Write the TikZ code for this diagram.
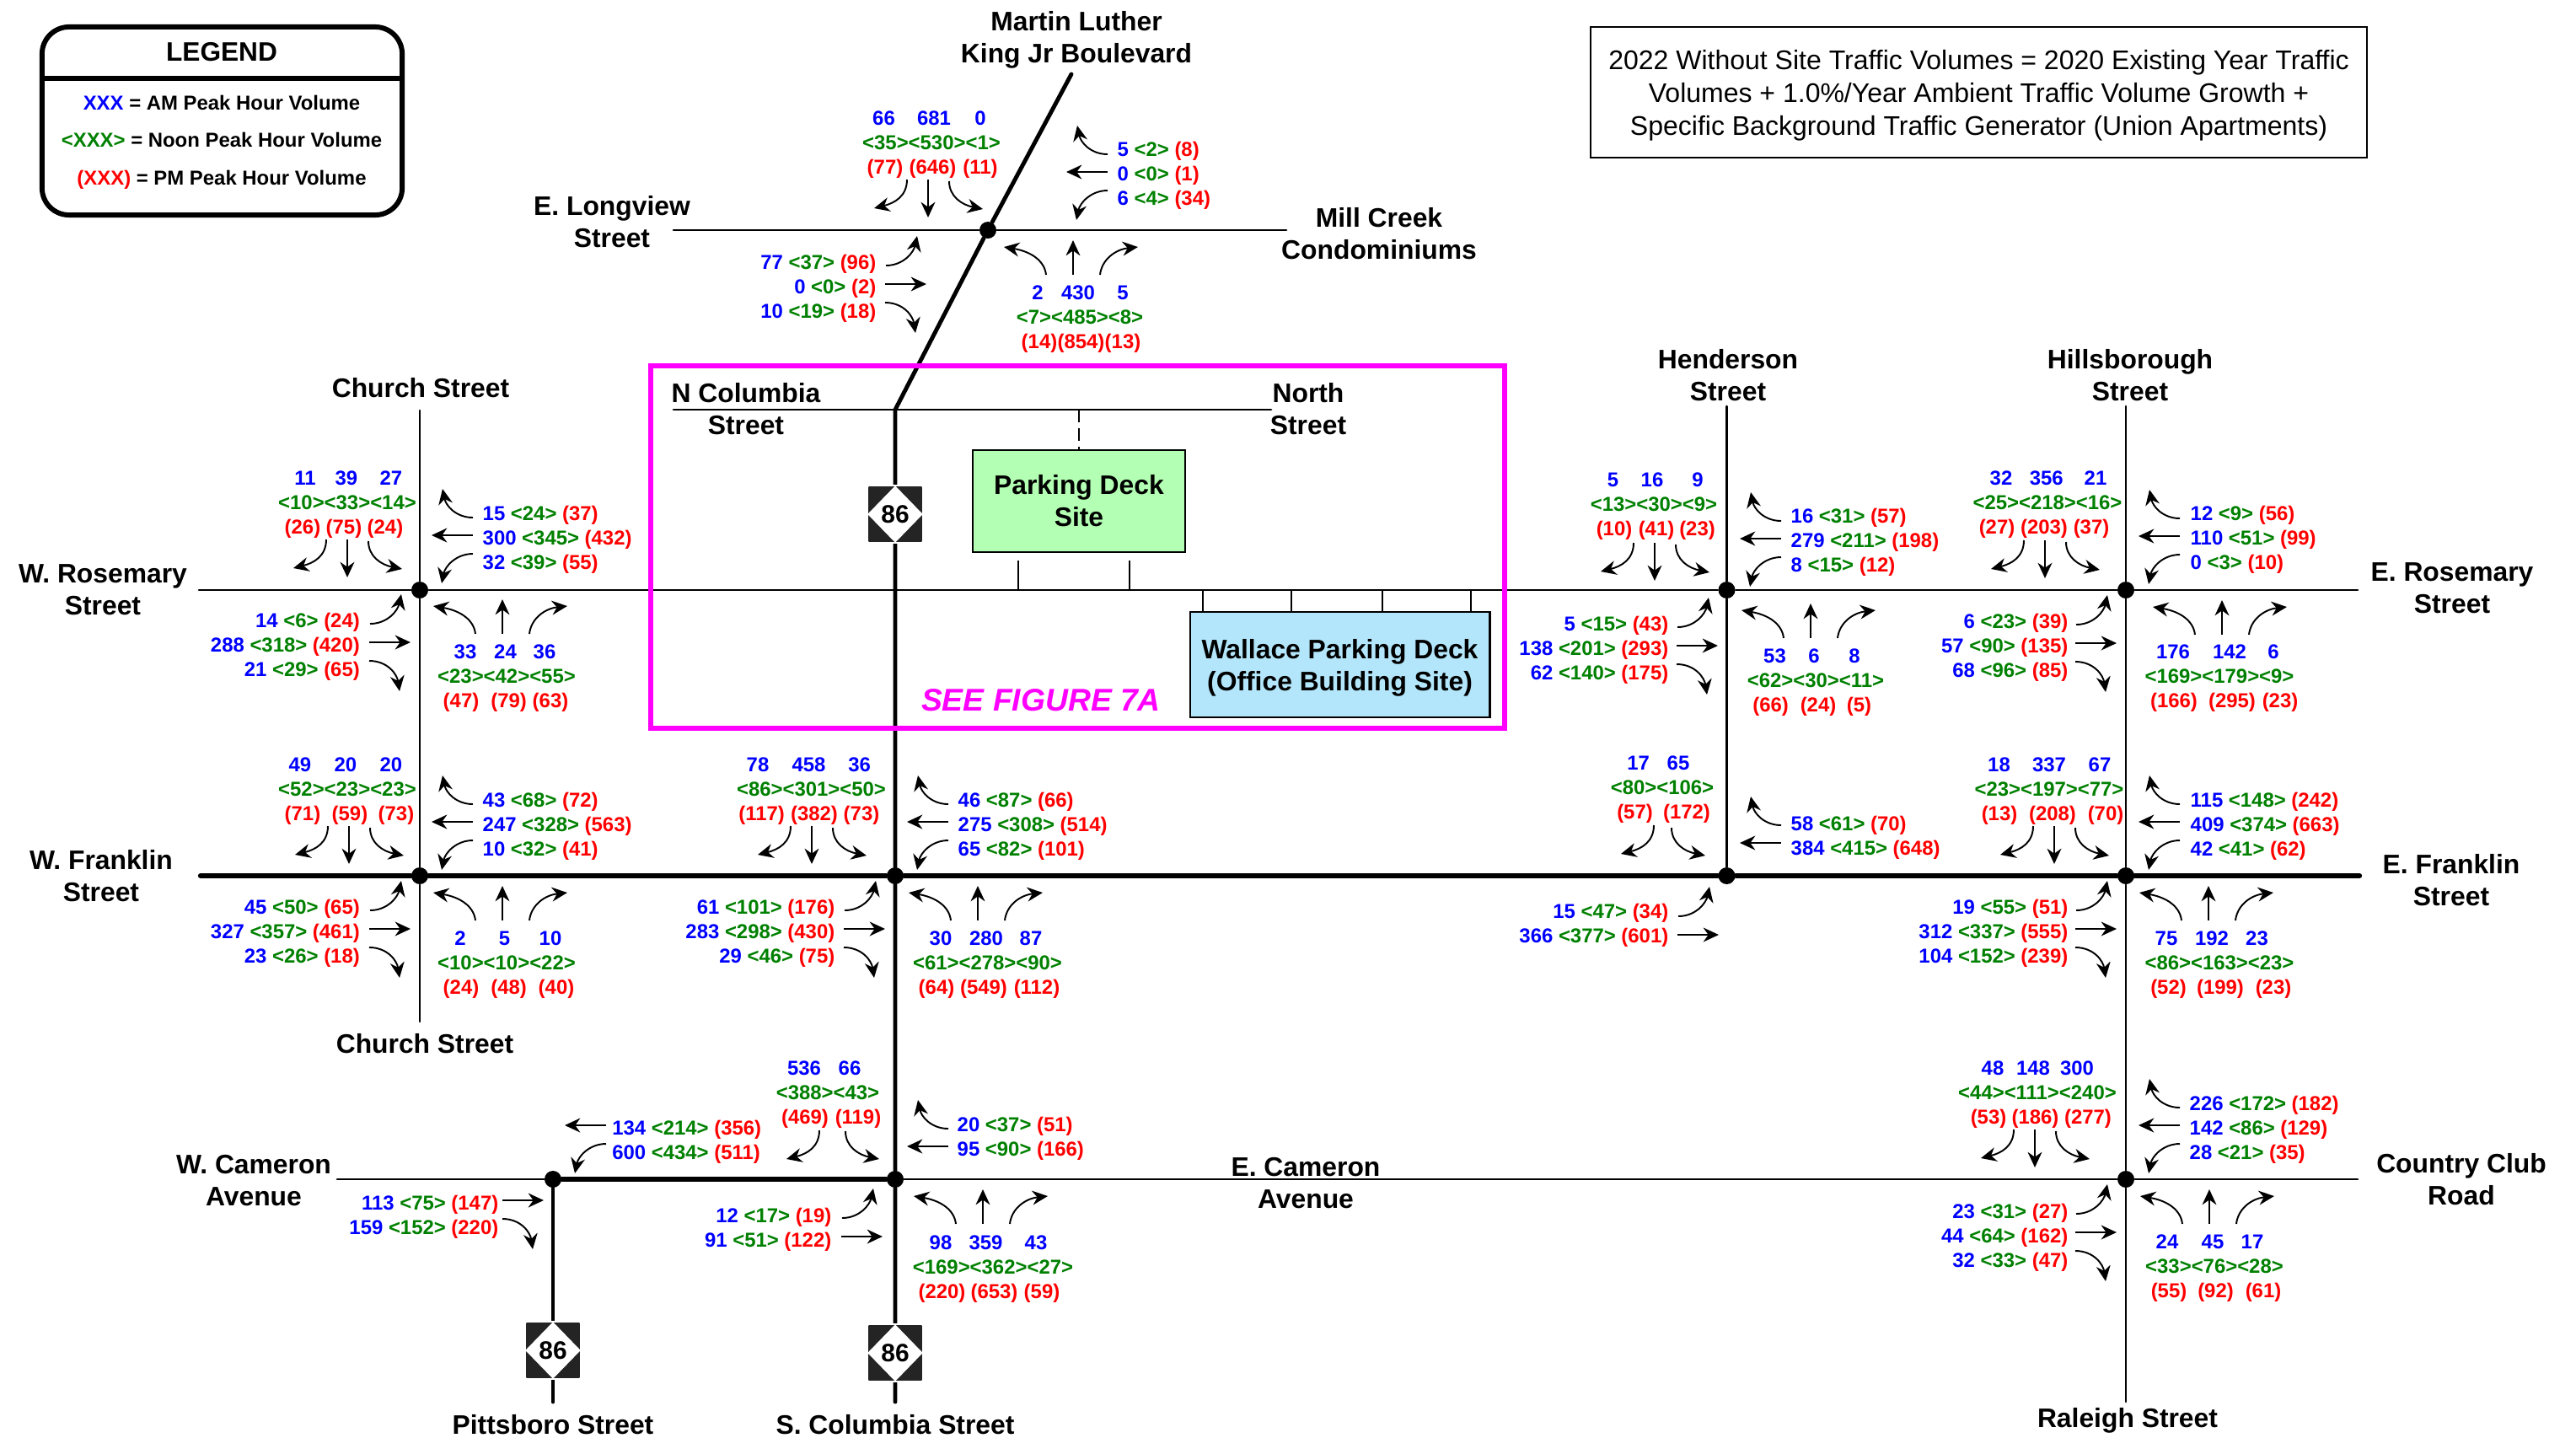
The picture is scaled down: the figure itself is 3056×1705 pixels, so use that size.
\documentclass[tikz,border=0pt]{standalone}
\usepackage{fontspec}
\setmainfont{Liberation Sans}
\usetikzlibrary{arrows.meta, shapes.geometric}

\definecolor{amblue}{RGB}{0,0,255}
\definecolor{noongreen}{RGB}{0,128,0}
\definecolor{pmred}{RGB}{255,0,0}
\definecolor{seemagenta}{RGB}{255,0,255}
\definecolor{deckgreen}{RGB}{179,255,179}
\definecolor{wallaceblue}{RGB}{179,230,250}
\definecolor{shielddark}{RGB}{36,36,36}

\newcommand{\amv}[1]{\textcolor{amblue}{#1}}
\newcommand{\noonv}[1]{\textcolor{noongreen}{<#1>}}
\newcommand{\pmv}[1]{\textcolor{pmred}{(#1)}}

% rows beside a crossing: name, anchor, x, first y, am/noon/pm
\newcommand{\siderows}[5]{%
  \foreach \a/\b/\c [count=\i] in {#5}
    \node[vol,anchor=#2] (#1\i) at (#3,{#4+(\i-1)*29}) {\amv{\a} \noonv{\b} \pmv{\c}};%
}
% rows above or below a crossing: name, y, am list, noon x, noon text, pm list
\newcommand{\stackrows}[6]{%
  \foreach \x/\t [count=\i] in {#3}
    \node[vol] (#1a\i) at (\x,#2) {\amv{\t}};
  \node[vol] (#1n) at (#4,{#2+29}) {\textcolor{noongreen}{#5}};
  \foreach \x/\t [count=\i] in {#6}
    \node[vol] (#1p\i) at (\x,{#2+58}) {\pmv{\t}};%
}

\tikzset{
  vol/.style={font=\bfseries\fontsize{6.8}{8}\selectfont,inner sep=0pt,text height=4.9pt,text depth=0pt},
  roadname/.style={font=\bfseries\fontsize{9.05}{10.8}\selectfont,align=center,inner sep=0pt},
  dot/.style={circle,fill=black,inner sep=0pt,minimum size=0.2cm},
  roadthin/.style={line width=.8pt,line cap=round},
  roadmid/.style={line width=1.4pt,line cap=round},
  roadwide/.style={line width=1.8pt,line cap=round},
  stub/.style={line width=.55pt},
  movearrow/.style={line width=.55pt,-{Stealth[length=5.2pt,width=4.8pt]}},
  thruarrow/.style={line width=.7pt,-{Stealth[length=5.2pt,width=4.8pt]}},
  shieldbox/.style={rectangle,rounded corners=.5pt,fill=shielddark,draw=white,line width=.5pt,minimum width=.66cm,minimum height=.68cm},
  shielddiamond/.style={diamond,fill=white,inner sep=0pt,minimum width=.66cm,minimum height=.68cm,font=\bfseries\fontsize{8.5}{10}\selectfont},
  site/.style={rectangle,draw=black,line width=.8pt,font=\bfseries\fontsize{9.05}{10.8}\selectfont,align=center,inner sep=0pt},
  % north leg
  nleft/.pic={\draw[movearrow] (-25,0) .. controls (-25,20) and (-40,28) .. (-64,34);},
  nthru/.pic={\draw[movearrow] (0,0) -- (0,45);},
  nright/.pic={\draw[movearrow] (25,2) .. controls (25,20) and (40,30) .. (65,35);},
  nleg/.pic={\pic{nleft};\pic{nthru};\pic{nright};},
  % east leg
  eup/.pic={\draw[movearrow] (0,-21) .. controls (-20,-21) and (-32,-35) .. (-36,-55);},
  emid/.pic={\draw[thruarrow] (0,0) -- (-49,0);},
  elow/.pic={\draw[movearrow] (0,22) .. controls (-20,22) and (-33,37) .. (-37,57);},
  eleg/.pic={\pic{eup};\pic{emid};\pic{elow};},
  % west leg
  wup/.pic={\draw[movearrow] (1,-22) .. controls (22,-22) and (34,-38) .. (38,-57);},
  wmid/.pic={\draw[thruarrow] (0,0) -- (49,0);},
  wlow/.pic={\draw[movearrow] (0,22) .. controls (22,22) and (33,38) .. (36,58);},
  wleg/.pic={\pic{wup};\pic{wmid};\pic{wlow};},
  % south leg
  sleft/.pic={\draw[movearrow] (-32,0) .. controls (-34,-18) and (-52,-28) .. (-82,-33);},
  sthru/.pic={\draw[movearrow] (0,0) -- (0,-41);},
  sright/.pic={\draw[movearrow] (32,0) .. controls (34,-18) and (50,-30) .. (77,-33);},
  sleg/.pic={\pic{sleft};\pic{sthru};\pic{sright};},
}

\begin{document}
\begin{tikzpicture}[x=0.01cm,y=-0.01cm]
    \useasboundingbox (0,0) rectangle (3056,1705);

    % crossings
    \node[dot] (longview) at (1172,273) {};
    \node[dot] (churchrose) at (498,700) {};
    \node[dot] (churchfrank) at (498,1039) {};
    \node[dot] (colfrank) at (1062,1039) {};
    \node[dot] (hendrose) at (2048.5,700) {};
    \node[dot] (hillrose) at (2522,700) {};
    \node[dot] (hendfrank) at (2048.5,1039) {};
    \node[dot] (hillfrank) at (2522,1039) {};
    \node[dot] (pittscam) at (656,1399) {};
    \node[dot] (colcam) at (1062,1399) {};
    \node[dot] (raleighcam) at (2522,1399) {};

    % free road ends
    \coordinate (rosewest) at (236,700);
    \coordinate (roseeast) at (2797,700);
    \coordinate (frankwest) at (238,1039);
    \coordinate (frankeast) at (2799,1039);
    \coordinate (camwest) at (400,1399);
    \coordinate (cameast) at (2797,1399);
    \coordinate (churchtop) at (498,487);
    \coordinate (churchend) at (498,1212);
    \coordinate (hendtop) at (2048.5,482);
    \coordinate (hilltop) at (2522,482);
    \coordinate (raleighend) at (2522,1663);
    \coordinate (pittsend) at (656,1663);
    \coordinate (colend) at (1062,1663);
    \coordinate (coltop) at (1062,486);
    \coordinate (kingtop) at (1271,88);
    \coordinate (northwest) at (799,486);
    \coordinate (northeast) at (1508,486);
    \coordinate (longwest) at (799,273);
    \coordinate (longeast) at (1526,273);

    % roads
    \draw[roadthin] (rosewest) -- (churchrose) -- (hendrose) -- (hillrose) -- (roseeast);
    \draw[roadwide] (frankwest) -- (churchfrank) -- (colfrank) -- (hendfrank) -- (hillfrank) -- (frankeast);
    \draw[roadthin] (camwest) -- (pittscam);
    \draw[roadwide] (pittscam) -- (colcam);
    \draw[roadthin] (colcam) -- (raleighcam) -- (cameast);
    \draw[roadthin] (churchtop) -- (churchrose) -- (churchfrank) -- (churchend);
    \draw[roadthin] (hendtop) -- (hendrose) -- (hendfrank);
    \draw[roadthin] (hilltop) -- (hillrose) -- (hillfrank) -- (raleighcam) -- (raleighend);
    \draw[roadmid] (pittscam) -- (pittsend);
    \draw[roadmid] (kingtop) -- (longview) -- (coltop) -- (colfrank) -- (colcam) -- (colend);
    \draw[roadthin] (longwest) -- (longview) -- (longeast);
    \draw[roadthin] (northwest) -- (northeast);

    % route shields
    \node[shieldbox] (shieldnorth) at (1062,610) {};
    \node[shielddiamond] (routenorth) at (shieldnorth) {86};
    \node[shieldbox] (shieldpitts) at (656,1602) {};
    \node[shielddiamond] (routepitts) at (shieldpitts) {86};
    \node[shieldbox] (shieldsouth) at (1062,1605) {};
    \node[shielddiamond] (routesouth) at (shieldsouth) {86};

    % sites
    \node[site,fill=deckgreen,minimum width=2.52cm,minimum height=1.21cm] (deck) at (1280,594.5) {Parking Deck\\Site};
    \node[site,fill=wallaceblue,minimum width=3.55cm,minimum height=1.25cm,text depth=0pt] (wallace) at (1589.5,788.5) {Wallace Parking Deck\\(Office Building Site)};
    \coordinate (deckdrive) at (1280,486);
    \draw[stub,dash pattern=on 4.3pt off 2pt] (deckdrive) -- (deck.north);
    \foreach \x in {1208,1340}
        \draw[stub] (\x,665) -- (\x,700);
    \foreach \x in {1427,1532,1640,1745}
        \draw[stub] (\x,700) -- (\x,726);

    % figure 7A window
    \node[draw=seemagenta,line width=1.6pt,minimum width=10.13cm,minimum height=4.3cm,inner sep=0pt] (window) at (1278.5,649) {};
    \node[text=seemagenta,inner sep=0pt,font=\bfseries\itshape\fontsize{10.6}{12}\selectfont] (windowname) at (1235,831) {SEE FIGURE 7A};

    % legend
    \node[draw=black,line width=1.7pt,rounded corners=.32cm,minimum width=4.27cm,minimum height=2.23cm,inner sep=0pt] (legend) at (263.5,143.5) {};
    \coordinate (legendrule) at (263,93);
    \draw[line width=1.7pt] (legend.west |- legendrule) -- (legend.east |- legendrule);
    \node[inner sep=0pt,font=\bfseries\fontsize{9}{11}\selectfont] (legendname) at (263,62) {LEGEND};
    \node[vol] (legendam) at (263,122) {\amv{XXX} = AM Peak Hour Volume};
    \node[vol] (legendnoon) at (263,166) {\noonv{XXX} = Noon Peak Hour Volume};
    \node[vol] (legendpm) at (263,211) {\pmv{XXX} = PM Peak Hour Volume};

    % note
    \node[draw=black,line width=.55pt,minimum width=9.21cm,minimum height=1.55cm,inner sep=0pt,align=center,font=\fontsize{9.1}{11.1}\selectfont,text depth=0pt] (note) at (2347.5,109.5)
        {2022 Without Site Traffic Volumes = 2020 Existing Year Traffic\\
         Volumes + 1.0\%/Year Ambient Traffic Volume Growth +\\
         Specific Background Traffic Generator (Union Apartments)};

    % road names
    \node[roadname] (kingname) at (1277,47) {Martin Luther\\King Jr Boulevard};
    \node[roadname] (longname) at (726,263) {E. Longview\\Street};
    \node[roadname] (millname) at (1636,277) {Mill Creek\\Condominiums};
    \node[roadname] (colname) at (885,485) {N Columbia\\Street};
    \node[roadname] (northname) at (1552,485) {North\\Street};
    \node[roadname] (churchnorth) at (499,460) {Church Street};
    \node[roadname] (hendname) at (2050,445) {Henderson\\Street};
    \node[roadname] (hillname) at (2527,445) {Hillsborough\\Street};
    \node[roadname] (rosewname) at (122,700) {W. Rosemary\\Street};
    \node[roadname] (roseename) at (2909,698) {E. Rosemary\\Street};
    \node[roadname] (frankwname) at (120,1039) {W. Franklin\\Street};
    \node[roadname] (frankename) at (2908,1044) {E. Franklin\\Street};
    \node[roadname] (churchsouth) at (504,1238) {Church Street};
    \node[roadname] (camwname) at (301,1401) {W. Cameron\\Avenue};
    \node[roadname] (camename) at (1549,1404) {E. Cameron\\Avenue};
    \node[roadname] (clubname) at (2920,1399) {Country Club\\Road};
    \node[roadname] (pittsname) at (656,1690) {Pittsboro Street};
    \node[roadname] (colsname) at (1062,1690) {S. Columbia Street};
    \node[roadname] (raleighname) at (2524,1685) {Raleigh Street};

    % movement arrows
    \foreach \x/\y in {1101/213,412/640,414/980,963/980,1963/644,2426/641,2437/980,2414/1340}
        \pic at (\x,\y) {nleg};
    \foreach \x/\y in {1314/204,561/635,561/975,1125/975,2113/639,2586/636,2586/975,2586/1335}
        \pic at (\x,\y) {eleg};
    \foreach \x/\y in {1050/337,438/762,438/1102,1001/1102,1989/766,2462/763,2462/1102,2462/1462}
        \pic at (\x,\y) {wleg};
    \foreach \x/\y in {596/752,596/1092,1160/1092,2148/757,2636/753,2620/1092,1166/1452,2621/1452}
        \pic at (\x,\y) {sleg};
    \pic[xscale=.87] at (1273,326) {sleg};

    % two-way pieces
    \pic at (1987,979) {nleft};
    \pic at (1958,980) {nright};
    \pic at (2113,1000) {eup};
    \pic at (2113,1000) {emid};
    \pic at (1990,1109) {wup};
    \pic at (1990,1109) {wmid};
    \pic at (997,1341) {nleft};
    \pic at (978,1340) {nright};
    \pic at (1125,1360) {eup};
    \pic at (1125,1360) {emid};
    \pic at (998,1467) {wup};
    \pic at (998,1467) {wmid};
    \pic at (719,1335) {emid};
    \pic at (719,1335) {elow};
    \pic at (596,1424) {wmid};
    \pic at (596,1424) {wlow};

    % Longview volumes
    \stackrows{ln}{140}{1048.5/66,1108/681,1163/0}{1105}{<35><530><1>}{1050/77,1106.5/646,1163/11}
    \siderows{le}{west}{1325}{177}{5/2/8,0/0/1,6/4/34}
    \siderows{lw}{east}{1040}{311}{77/37/96,0/0/2,10/19/18}
    \stackrows{ls}{347}{1231/2,1279/430,1332/5}{1281}{<7><485><8>}{1233/14,1282.5/854,1332/13}

    % Church at Rosemary
    \stackrows{crn}{567}{362/11,411/39,464/27}{412}{<10><33><14>}{359/26,408/75,457/24}
    \siderows{cre}{west}{572}{609}{15/24/37,300/345/432,32/39/55}
    \siderows{crw}{east}{427.5}{736}{14/6/24,288/318/420,21/29/65}
    \stackrows{crs}{773}{552/33,599.5/24,646/36}{601}{<23><42><55>}{547/47,603.6/79,653/63}

    % Church at Franklin
    \stackrows{cfn}{907}{356/49,410/20,464/20}{412}{<52><23><23>}{359/71,415/59,470/73}
    \siderows{cfe}{west}{572}{949}{43/68/72,247/328/563,10/32/41}
    \siderows{cfw}{east}{427.5}{1076}{45/50/65,327/357/461,23/26/18}
    \stackrows{cfs}{1113}{546/2,598.5/5,653/10}{601}{<10><10><22>}{547/24,603.6/48,660/40}

    % Columbia at Franklin
    \stackrows{kfn}{907}{899/78,959.5/458,1019.6/36}{962.5}{<86><301><50>}{903.6/117,966/382,1022/73}
    \siderows{kfe}{west}{1136}{949}{46/87/66,275/308/514,65/82/101}
    \siderows{kfw}{east}{991}{1076}{61/101/176,283/298/430,29/46/75}
    \stackrows{kfs}{1113}{1116/30,1170/280,1223/87}{1171.5}{<61><278><90>}{1111/64,1167/549,1230/112}

    % Henderson at Rosemary
    \stackrows{hrn}{569}{1913.4/5,1960/16,2014/9}{1962}{<13><30><9>}{1915/10,1965/41,2013.5/23}
    \siderows{hre}{west}{2124}{612}{16/31/57,279/211/198,8/15/12}
    \siderows{hrw}{east}{1980}{740}{5/15/43,138/201/293,62/140/175}
    \stackrows{hrs}{778}{2105.5/53,2152/6,2200/8}{2154}{<62><30><11>}{2100.6/66,2157/24,2205.5/5}

    % Hillsborough at Rosemary
    \stackrows{brn}{567}{2374/32,2427.7/356,2486/21}{2429}{<25><218><16>}{2369/27,2425/203,2481/37}
    \siderows{bre}{west}{2598}{609}{12/9/56,110/51/99,0/3/10}
    \siderows{brw}{east}{2454}{737}{6/23/39,57/90/135,68/96/85}
    \stackrows{brs}{773}{2578/176,2645/142,2697/6}{2633}{<169><179><9>}{2579/166,2648/295,2705/23}

    % Henderson at Franklin
    \stackrows{hfn}{905}{1943.6/17,1991/65}{1972}{<80><106>}{1939.5/57,2001/172}
    \siderows{hfe}{west}{2124}{977}{58/61/70,384/415/648}
    \siderows{hfw}{east}{1980}{1081}{15/47/34,366/377/601}

    % Hillsborough at Franklin
    \stackrows{bfn}{907}{2371.5/18,2431/337,2491/67}{2431}{<23><197><77>}{2372/13,2435/208,2498/70}
    \siderows{bfe}{west}{2598}{949}{115/148/242,409/374/663,42/41/62}
    \siderows{bfw}{east}{2454}{1076}{19/55/51,312/337/555,104/152/239}
    \stackrows{bfs}{1113}{2570/75,2624/192,2677.5/23}{2633}{<86><163><23>}{2572.5/52,2634/199,2697/23}

    % Columbia at Cameron
    \stackrows{kcn}{1267}{954/536,1008/66}{982}{<388><43>}{955/469,1018/119}
    \siderows{kce}{west}{1135}{1334}{20/37/51,95/90/166}
    \siderows{kcw}{east}{987}{1442}{12/17/19,91/51/122}
    \stackrows{kcs}{1474}{1116/98,1169.5/359,1229/43}{1178}{<169><362><27>}{1117.5/220,1179.5/653,1236/59}

    % Pittsboro at Cameron
    \siderows{pce}{west}{725.6}{1338}{134/214/356,600/434/511}
    \siderows{pcw}{east}{592}{1427}{113/75/147,159/152/220}

    % Raleigh at Cameron
    \stackrows{rcn}{1267}{2364/48,2412/148,2464/300}{2417}{<44><111><240>}{2359/53,2414.5/186,2477/277}
    \siderows{rce}{west}{2597}{1309}{226/172/182,142/86/129,28/21/35}
    \siderows{rcw}{east}{2454}{1437}{23/31/27,44/64/162,32/33/47}
    \stackrows{rcs}{1473}{2571/24,2625/45,2672/17}{2627}{<33><76><28>}{2573/55,2628.5/92,2685/61}
\end{tikzpicture}
\end{document}
